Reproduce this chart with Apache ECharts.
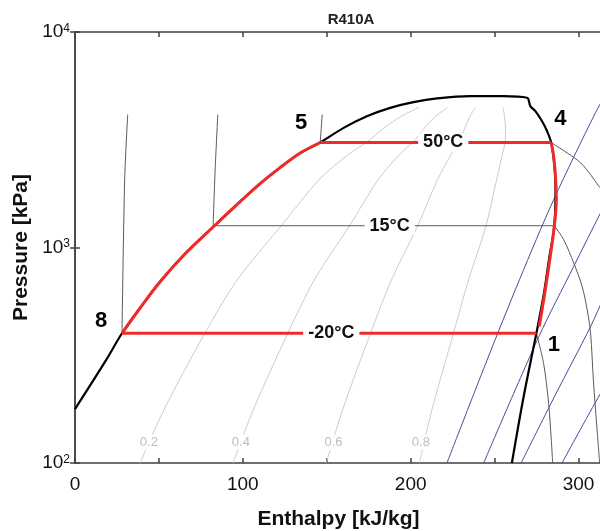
<!DOCTYPE html>
<html><head><meta charset="utf-8">
<script src="https://cdn.jsdelivr.net/npm/echarts@6.0.0/dist/echarts.min.js"></script>
<style>html,body{margin:0;padding:0;background:#fff}#c{width:600px;height:531px}</style>
</head><body><div id="c"></div>
<script>
// ---------- data (enthalpy kJ/kg, pressure kPa) ----------
const xTickValues = [0, 50, 100, 150, 200, 250, 300];
const xLabelValues = [0, 100, 200, 300];
const yTickValues = [100, 1000, 10000];

const satDome = [[0,178],[18.5,300],[28.0,400],[38.8,524],[50.7,693],[65.6,935],[83.1,1262],[98.4,1632],[110.3,1979],[122.2,2348],[134.2,2743],[146.1,3070],[159.8,3581],[173.9,4064],[187.8,4446],[201.7,4725],[215.7,4916],[235.5,5039],[255.4,5039],[269.3,4955],[271.3,4529],[274.3,4292],[278.3,3855],[281.3,3463],[283.7,3070],[285.4,2500],[286.3,1900],[285.6,1262],[282.6,900],[279.2,600],[274.9,400],[267.3,203],[260.3,100]];

const q02 = [[38.8,100],[53.2,178],[77.4,400],[96.7,708],[122.9,1262],[145.5,2066],[162.8,2700],[173.6,3070],[184.0,3581],[194.4,4064],[205.0,4467]];
const q04 = [[94.2,100],[106.4,178],[126.8,400],[142.6,708],[163.6,1262],[180.7,2066],[193.4,2700],[201.1,3070],[208.2,3581],[214.9,4064],[222.0,4467]];
const q06 = [[149.7,100],[159.6,178],[176.1,400],[188.6,708],[204.2,1262],[216.0,2066],[224.0,2700],[228.7,3070],[232.3,3581],[235.4,4064],[238.5,4467]];
const q08 = [[205.2,100],[212.8,178],[225.5,400],[234.5,708],[244.9,1262],[251.2,2066],[254.6,2700],[256.2,3070],[256.5,3581],[255.9,4064],[255.1,4467]];
const qualityNames = ['0.2','0.4','0.6','0.8'];
const qualityLabelPos = [[44.0,125],[98.8,125],[154.0,125],[206.1,125]];

const isoM20Liq = [[28.0,400],[29.6,2066],[31.4,4140]];
const iso15Liq = [[82.3,1262],[83.5,2296],[85.1,4140]];
const iso50Liq = [[146.1,3070],[147.3,4140]];
const iso15Dome = [[82.3,1262],[285.6,1262]];
const isoM20Vap = [[274.9,400],[279.2,290],[282.2,189],[283.8,127.5],[284.6,100]];
const iso15Vap = [[285.6,1262],[291.2,1086],[297.2,846],[302.2,658],[305.2,513],[307.2,400],[308.9,240],[311.1,142],[312.6,100]];
const iso50Vap = [[283.7,3070],[293.2,2748],[301.3,2470],[307.2,2178],[312.2,1922],[318,1700]];

const isentA = [[221.6,100],[245.5,300],[264.8,708],[285.2,1667],[310.1,4219],[318,5400]];
const isentB = [[243.5,100],[276.3,385],[297.1,816],[313.1,1445],[318,1700]];
const isentC = [[265.8,100],[286.2,207],[307.1,428],[313.1,541],[318,640]];
const isentD = [[290.2,100],[313.1,210],[318,235]];

const cycleEvap = [[28.0,400],[274.9,400]];
const cycleComp = [[276.6,430],[279.7,600],[283.1,900],[285.6,1262],[286.8,1667],[286.4,2066],[285.2,2650],[283.7,3070]];
const cycleCond = [[283.7,3070],[146.1,3070]];
const cycleExp = [[146.1,3070],[134.2,2743],[122.2,2348],[110.3,1979],[98.4,1632],[83.1,1262],[65.6,935],[50.7,693],[38.8,524],[28.0,400]];

const isoLabelNames = ['50°C','15°C','-20°C'];
const isoLabelPos = [[219.4,3070],[187.5,1262],[152.7,400]];
const stateNames = ['5','4','8','1'];
const statePos = [[134.8,3782],[289.2,3938],[15.5,458],[285.3,354]];

// ---------- chart ----------
const FONT = 'Liberation Sans, Arial, Helvetica, sans-serif';
const chart = echarts.init(document.getElementById('c'), null, {renderer: 'canvas'});

function lineSeries(data, color, width, z, smooth) {
  return {type: 'line', data: data, showSymbol: false, symbol: 'none', smooth: smooth,
    lineStyle: {color: color, width: width}, z: z, silent: true, clip: true, animation: false};
}
function labelSeries(names, pos, labelStyle, z) {
  return {type: 'scatter', symbolSize: 0, z: z, silent: true, animation: false,
    itemStyle: {opacity: 1},
    data: names.map((n, i) => ({name: n, value: pos[i]})),
    label: Object.assign({show: true, position: 'inside', opacity: 1, formatter: p => p.name, fontFamily: FONT}, labelStyle)};
}

const axisLineStyle = {color: '#404040', width: 1.5};
const series = [];
[q02, q04, q06, q08].forEach(q => series.push(lineSeries(q, '#cccccc', 1, 1, 0.3)));
[isoM20Liq, iso15Liq, iso50Liq, isoM20Vap, iso15Vap, iso50Vap].forEach(d => series.push(lineSeries(d, '#5a5a5a', 1, 2, 0.3)));
series.push(lineSeries(iso15Dome, '#5a5a5a', 1, 2, false));
[isentA, isentB, isentC, isentD].forEach(d => series.push(lineSeries(d, '#4a4a9c', 1, 2, 0.3)));
series.push(lineSeries(satDome, '#000000', 2.2, 3, 0.35));
series.push(lineSeries(cycleEvap, '#f02a2a', 3, 4, false));
series.push(lineSeries(cycleComp, '#f02a2a', 3, 4, 0.3));
series.push(lineSeries(cycleCond, '#f02a2a', 3, 4, false));
series.push(lineSeries(cycleExp, '#f02a2a', 3, 4, 0.35));
series.push(labelSeries(qualityNames, qualityLabelPos, {fontSize: 13, color: '#bdbdbd', backgroundColor: '#fff', padding: [1, 1]}, 6));
series.push(labelSeries(isoLabelNames, isoLabelPos, {fontSize: 18, fontWeight: 'bold', color: '#111', backgroundColor: '#fff', padding: [0, 5]}, 7));
series.push(labelSeries(stateNames, statePos, {fontSize: 22, fontWeight: 'bold', color: '#000'}, 7));

chart.setOption({
  animation: false,
  backgroundColor: '#fff',
  title: {text: 'R410A', left: 346, top: 7, textAlign: 'center',
    textStyle: {fontFamily: FONT, fontSize: 15, fontWeight: 'bold', color: '#222'}},
  grid: {left: 75, top: 32, right: -2, bottom: 68, containLabel: false, outerBoundsMode: 'none'},
  xAxis: [{
    type: 'value', min: 0, max: 314, interval: 50, position: 'bottom',
    name: 'Enthalpy [kJ/kg]', nameLocation: 'middle', nameGap: 46,
    nameTextStyle: {fontFamily: FONT, fontSize: 21, fontWeight: 'bold', color: '#111'},
    axisLine: {show: true, lineStyle: axisLineStyle},
    axisTick: {show: true, inside: true, length: 5, lineStyle: axisLineStyle,
      customValues: xTickValues},
    axisLabel: {show: true, margin: 12, fontFamily: FONT, fontSize: 19, color: '#111',
      customValues: xLabelValues, formatter: v => String(v)},
    splitLine: {show: false}
  }, {
    type: 'value', min: 0, max: 314, interval: 50, position: 'top',
    axisLine: {show: true, lineStyle: axisLineStyle},
    axisTick: {show: true, inside: true, length: 5, lineStyle: axisLineStyle, customValues: xTickValues},
    axisLabel: {show: false}, splitLine: {show: false}
  }],
  yAxis: [{
    type: 'log', logBase: 10, min: 100, max: 10000, position: 'left',
    name: 'Pressure [kPa]', nameLocation: 'middle', nameGap: 39, nameRotate: 90,
    nameTextStyle: {fontFamily: FONT, fontSize: 21, fontWeight: 'bold', color: '#111'},
    axisLine: {show: true, lineStyle: axisLineStyle},
    axisTick: {show: true, inside: true, length: 5, lineStyle: axisLineStyle, customValues: yTickValues},
    minorTick: {show: false},
    axisLabel: {show: true, margin: 5, customValues: yTickValues,
      formatter: v => '{b|10}{s|' + Math.round(Math.log10(v)) + '}',
      rich: {b: {fontFamily: FONT, fontSize: 19, lineHeight: 19, color: '#111'},
             s: {fontFamily: FONT, fontSize: 12, lineHeight: 12, color: '#111', verticalAlign: 'top'}}},
    splitLine: {show: false}
  }, {
    type: 'log', logBase: 10, min: 100, max: 10000, position: 'right',
    axisLine: {show: true, lineStyle: axisLineStyle},
    axisTick: {show: true, inside: true, length: 5, lineStyle: axisLineStyle, customValues: yTickValues},
    axisLabel: {show: false}, splitLine: {show: false}
  }],
  series: series
});
</script>
</body></html>
